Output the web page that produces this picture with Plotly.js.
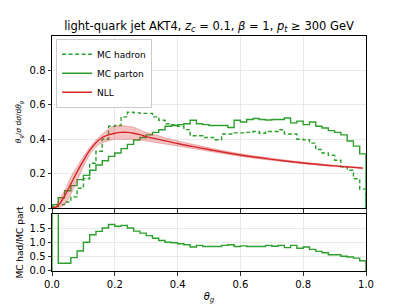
<!DOCTYPE html>
<html><head><meta charset="utf-8">
<script src="https://cdn.plot.ly/plotly-3.0.1.min.js"></script>
<style>html,body{margin:0;padding:0;background:#fff}#c{width:407px;height:305px}</style>
</head><body><div id="c"></div>
<script>
// bin edges: 50 bins of width 0.02 on [0,1]
const binEdges = Array.from({length: 51}, (_, i) => +(i * 0.02).toFixed(2));

const mcHadron = [0.01,0.02,0.035,0.065,0.115,0.17,0.26,0.33,0.40,0.475,
  0.48,0.53,0.557,0.553,0.55,0.55,0.53,0.51,0.49,0.485,
  0.475,0.456,0.42,0.42,0.41,0.41,0.397,0.43,0.43,0.437,
  0.437,0.44,0.445,0.435,0.445,0.445,0.455,0.43,0.43,0.40,
  0.397,0.377,0.34,0.32,0.307,0.278,0.24,0.22,0.17,0.11];

const mcParton = [0.02,0.06,0.10,0.13,0.165,0.19,0.22,0.25,0.275,0.30,
  0.32,0.345,0.37,0.395,0.41,0.425,0.44,0.455,0.475,0.48,
  0.485,0.49,0.51,0.49,0.485,0.48,0.48,0.48,0.468,0.51,
  0.50,0.515,0.52,0.515,0.512,0.515,0.515,0.523,0.495,0.505,
  0.485,0.50,0.475,0.465,0.45,0.44,0.425,0.39,0.36,0.315];

const ratioHadParton = [2.6,0.27,0.27,0.47,0.70,1.01,1.27,1.39,1.51,1.63,
  1.57,1.60,1.51,1.40,1.33,1.24,1.15,1.07,1.01,0.99,
  0.955,0.92,0.84,0.90,0.86,0.86,0.86,0.90,0.92,0.86,
  0.88,0.86,0.86,0.86,0.90,0.87,0.90,0.82,0.90,0.80,
  0.84,0.76,0.69,0.64,0.57,0.57,0.52,0.49,0.45,0.36];

const nllTheta = [0.0,0.01,0.02,0.04,0.06,0.08,0.10,0.12,0.14,0.16,0.18,0.20,0.22,0.24,0.26,0.28,0.30,0.35,0.40,0.45,0.50,0.60,0.70,0.80,0.90,0.99];
const nllCentral = [0.0,0.003,0.015,0.07,0.14,0.21,0.275,0.335,0.38,0.41,0.425,0.435,0.44,0.44,0.435,0.427,0.415,0.395,0.375,0.357,0.34,0.308,0.283,0.262,0.245,0.232];
const nllLow = [0.0,0.0,0.0,0.02,0.08,0.16,0.24,0.31,0.355,0.38,0.39,0.40,0.40,0.40,0.40,0.395,0.39,0.375,0.36,0.345,0.33,0.30,0.277,0.257,0.241,0.228];
const nllHigh = [0.0,0.01,0.04,0.10,0.18,0.24,0.30,0.35,0.395,0.43,0.46,0.475,0.48,0.475,0.47,0.455,0.44,0.415,0.39,0.37,0.35,0.316,0.289,0.267,0.249,0.236];

function stepXY(vals) {
  const x = [binEdges[0]], y = [0];
  for (let i = 0; i < vals.length; i++) { x.push(binEdges[i]); y.push(vals[i]); }
  x.push(binEdges[binEdges.length - 1]); y.push(0);
  return {x, y};
}

const green = '#2ca02c', red = '#d62728';
const h = stepXY(mcHadron), p = stepXY(mcParton), r = stepXY(ratioHadParton);

const traces = [
  {x: h.x, y: h.y, mode: 'lines', line: {shape: 'hv', color: green, width: 1.4, dash: '4px,2.5px'}, name: 'MC hadron', xaxis: 'x', yaxis: 'y'},
  {x: p.x, y: p.y, mode: 'lines', line: {shape: 'hv', color: green, width: 1.4}, name: 'MC parton', xaxis: 'x', yaxis: 'y'},
  {x: nllTheta, y: nllLow, mode: 'lines', line: {color: 'rgba(214,39,40,0.35)', width: 0.8, shape: 'spline'}, showlegend: false, hoverinfo: 'skip', xaxis: 'x', yaxis: 'y'},
  {x: nllTheta, y: nllHigh, mode: 'lines', fill: 'tonexty', fillcolor: 'rgba(214,39,40,0.28)', line: {color: 'rgba(214,39,40,0.35)', width: 0.8, shape: 'spline'}, showlegend: false, hoverinfo: 'skip', xaxis: 'x', yaxis: 'y'},
  {x: nllTheta, y: nllCentral, mode: 'lines', line: {color: red, width: 1.4, shape: 'spline'}, name: 'NLL', xaxis: 'x', yaxis: 'y'},
  {x: r.x, y: r.y, mode: 'lines', line: {shape: 'hv', color: green, width: 1.4}, showlegend: false, xaxis: 'x2', yaxis: 'y2'}
];

const font = {family: 'DejaVu Sans, sans-serif', color: '#000'};
const axBase = {showline: true, mirror: true, linecolor: '#000', linewidth: 1, ticks: 'outside', ticklen: 3.5, tickwidth: 0.8, tickcolor: '#000', showgrid: true, gridcolor: '#e3e3e3', gridwidth: 0.8, zeroline: false, tickfont: {size: 10}};

const layout = {
  width: 407, height: 305,
  margin: {l: 52, r: 41, t: 36, b: 34},
  paper_bgcolor: '#fff', plot_bgcolor: '#fff',
  font: font,
  showlegend: true,
  title: {text: 'light-quark jet AKT4, <i>z<sub>c</sub></i> = 0.1, <i>β</i> = 1, <i>p<sub>t</sub></i> ≥ 300 GeV', font: {size: 11.5}, x: 0.5, xref: 'paper', xanchor: 'center', y: 0.915, yanchor: 'middle'},
  legend: {x: 0.013, y: 0.988, xanchor: 'left', yanchor: 'top', traceorder: 'normal', bgcolor: 'rgba(255,255,255,0.9)', bordercolor: '#cccccc', borderwidth: 1, font: {size: 9}, tracegroupgap: 0, itemwidth: 30},
  xaxis: Object.assign({}, axBase, {range: [0, 1], tickvals: [0, 0.2, 0.4, 0.6, 0.8, 1.0], showticklabels: false, anchor: 'y', domain: [0, 1]}),
  yaxis: Object.assign({}, axBase, {range: [0, 1.0], tickvals: [0, 0.2, 0.4, 0.6, 0.8], tickformat: '.1f', domain: [0.268, 1], anchor: 'x',
    title: {text: '<i>θ<sub>g</sub></i>/<i>σ</i> d<i>σ</i>/d<i>θ<sub>g</sub></i>', font: {size: 7.5}, standoff: 6}}),
  xaxis2: Object.assign({}, axBase, {range: [0, 1], tickvals: [0, 0.2, 0.4, 0.6, 0.8, 1.0], tickformat: '.1f', anchor: 'y2', domain: [0, 1],
    title: {text: '<i>θ<sub>g</sub></i>', font: {size: 10}, standoff: 4}}),
  yaxis2: Object.assign({}, axBase, {range: [0, 2], tickvals: [0, 0.5, 1.0, 1.5], tickformat: '.1f', domain: [0, 0.2426], anchor: 'x2',
    title: {text: 'MC had/MC part', font: {size: 9}, standoff: 4}})
};

Plotly.newPlot('c', traces, layout, {staticPlot: true, displayModeBar: false});
</script></body></html>
